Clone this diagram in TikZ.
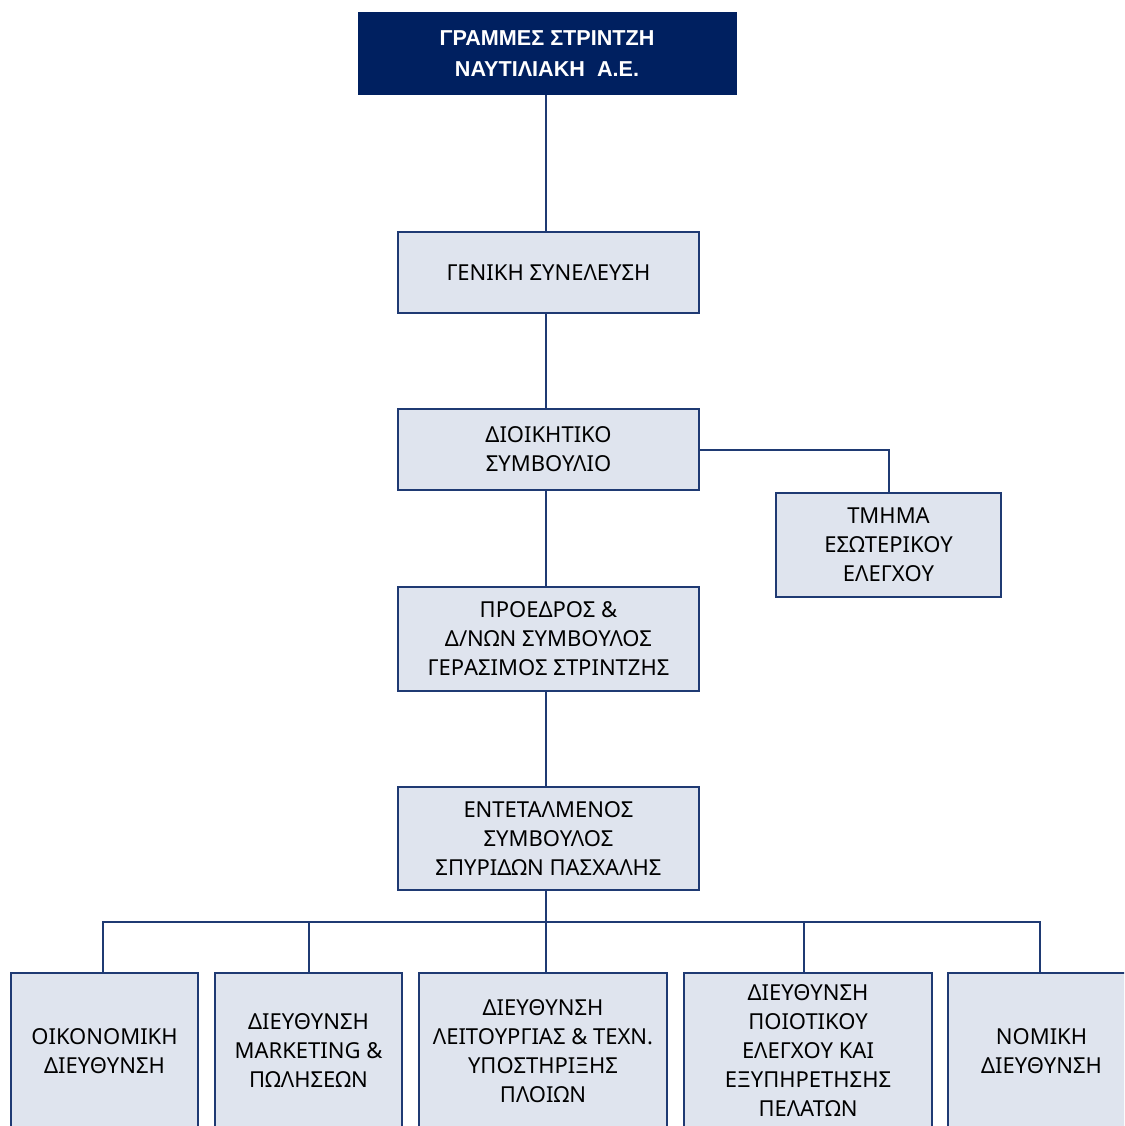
\documentclass[tikz,border=0pt]{standalone}
\usepackage{fontspec}
\setmainfont{Noto Sans}
\newfontfamily\topfont{Liberation Sans}
\definecolor{navy}{HTML}{002060}
\definecolor{edge}{HTML}{1F3A73}
\definecolor{pale}{HTML}{DFE4EE}
\tikzset{
  orgbox/.style={draw=edge, fill=pale, line width=1.5pt, inner sep=0pt, align=center,
    font=\fontsize{16.5}{21.75}\selectfont, text=black},
  topbox/.style={fill=navy, draw=navy, inner sep=0pt, align=center,
    font=\topfont\bfseries\fontsize{16.2}{23.25}\selectfont, text=white},
  link/.style={draw=edge, line width=1.5pt},
}
\begin{document}
\begin{tikzpicture}[x=0.75pt, y=-0.75pt]
\useasboundingbox (0,0) rectangle (1124,1126);
\clip (0,0) rectangle (1124,1126);
\node[topbox, minimum width={378*0.75pt}, minimum height={82*0.75pt}] (top) at (547,53.5) {ΓΡΑΜΜΕΣ ΣΤΡΙΝΤΖΗ\\ΝΑΥΤΙΛΙΑΚΗ\ \ Α.Ε.};
\node[orgbox, minimum width={301*0.75pt}, minimum height={81*0.75pt}] (gen) at (548.5,272.5) {ΓΕΝΙΚΗ ΣΥΝΕΛΕΥΣΗ};
\node[orgbox, minimum width={301*0.75pt}, minimum height={81*0.75pt}] (dsm) at (548.5,449.5) {ΔΙΟΙΚΗΤΙΚΟ\\ΣΥΜΒΟΥΛΙΟ};
\node[orgbox, minimum width={225*0.75pt}, minimum height={104*0.75pt}] (tme) at (888.5,545) {ΤΜΗΜΑ\\ΕΣΩΤΕΡΙΚΟΥ\\ΕΛΕΓΧΟΥ};
\node[orgbox, minimum width={301*0.75pt}, minimum height={104*0.75pt}] (pro) at (548.5,639) {ΠΡΟΕΔΡΟΣ \&\\Δ/ΝΩΝ ΣΥΜΒΟΥΛΟΣ\\ΓΕΡΑΣΙΜΟΣ ΣΤΡΙΝΤΖΗΣ};
\node[orgbox, minimum width={301*0.75pt}, minimum height={103*0.75pt}] (ent) at (548.5,838.5) {ΕΝΤΕΤΑΛΜΕΝΟΣ\\ΣΥΜΒΟΥΛΟΣ\\ΣΠΥΡΙΔΩΝ ΠΑΣΧΑΛΗΣ};
\coordinate (bus) at (546,922);
\node[orgbox, minimum width={187*0.75pt}, minimum height={156*0.75pt}] (b1) at (104.5,1051) {ΟΙΚΟΝΟΜΙΚΗ\\ΔΙΕΥΘΥΝΣΗ};
\node[orgbox, minimum width={187*0.75pt}, minimum height={156*0.75pt}] (b2) at (308.5,1051) {ΔΙΕΥΘΥΝΣΗ\\MARKETING \&\\ΠΩΛΗΣΕΩΝ};
\node[orgbox, minimum width={248*0.75pt}, minimum height={156*0.75pt}] (b3) at (543,1051) {ΔΙΕΥΘΥΝΣΗ\\ΛΕΙΤΟΥΡΓΙΑΣ \& ΤΕΧΝ.\\ΥΠΟΣΤΗΡΙΞΗΣ\\ΠΛΟΙΩΝ};
\node[orgbox, minimum width={248*0.75pt}, minimum height={156*0.75pt}] (b4) at (808,1051) {ΔΙΕΥΘΥΝΣΗ\\ΠΟΙΟΤΙΚΟΥ\\ΕΛΕΓΧΟΥ ΚΑΙ\\ΕΞΥΠΗΡΕΤΗΣΗΣ\\ΠΕΛΑΤΩΝ};
\node[orgbox, minimum width={187*0.75pt}, minimum height={156*0.75pt}] (b5) at (1041.5,1051) {ΝΟΜΙΚΗ\\ΔΙΕΥΘΥΝΣΗ};
\draw[link] (top.south -| bus) -- (gen.north -| bus);
\draw[link] (gen.south -| bus) -- (dsm.north -| bus);
\draw[link] (dsm.south -| bus) -- (pro.north -| bus);
\draw[link] (pro.south -| bus) -- (ent.north -| bus);
\draw[link] (ent.south -| bus) -- (bus);
\draw[link] (dsm.east) -| (tme.north);
\draw[link] ([xshift=-1.1pt]b1.north) |- (bus);
\draw[link] (b2.north) |- (bus);
\draw[link] (bus) -- (bus |- b3.north);
\draw[link] ([xshift=-3pt]b4.north) |- (bus);
\draw[link] ([xshift=-1.1pt]b5.north) |- (bus);
\end{tikzpicture}
\end{document}
